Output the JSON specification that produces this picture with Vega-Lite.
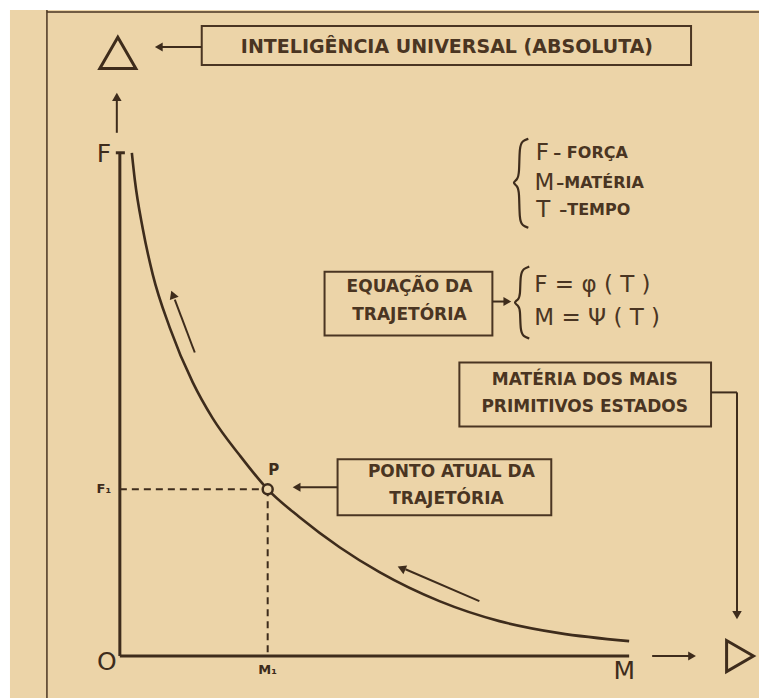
{
  "$schema": "https://vega.github.io/schema/vega-lite/v6.json",
  "width": 760,
  "height": 699,
  "autosize": {"type": "fit", "contains": "padding"},
  "padding": 0,
  "background": "#ffffff",
  "config": {"view": {"stroke": null}, "font": "DejaVu Sans"},
  "datasets": {
    "page": [{"x": -1.528, "x2": 8.889, "y": 8.986, "y2": -0.583}],
    "frame": [
      {"x": -1.014, "x2": -1.014, "y": 8.986, "y2": -0.583},
      {"x": -1.014, "x2": 8.889, "y": 8.958, "y2": 8.958}
    ],
    "axes": [
      {"x": 0, "x2": 0, "y": 0, "y2": 7.0},
      {"x": 0, "x2": 7.083, "y": 0, "y2": 0},
      {"x": -0.056, "x2": 0.07, "y": 7.0, "y2": 7.0}
    ],
    "yticks": [{"y": 0.986}, {"y": 1.972}, {"y": 2.972}, {"y": 3.958}, {"y": 4.972}, {"y": 5.958}],
    "xticks": [{"x": 1.042}, {"x": 2.056}, {"x": 3.056}, {"x": 4.056}, {"x": 5.042}, {"x": 6.083}, {"x": 7.083}],
    "dashed": [
      {"x": 0, "x2": 2.056, "y": 2.319, "y2": 2.319},
      {"x": 2.056, "x2": 2.056, "y": 2.319, "y2": 0}
    ],
    "curve": [
      {"x": 0.167, "y": 7.0}, {"x": 0.208, "y": 6.625}, {"x": 0.319, "y": 5.944}, {"x": 0.458, "y": 5.306},
      {"x": 0.694, "y": 4.569}, {"x": 1.014, "y": 3.806}, {"x": 1.292, "y": 3.306}, {"x": 1.667, "y": 2.792},
      {"x": 2.056, "y": 2.319}, {"x": 2.5, "y": 1.931}, {"x": 3.056, "y": 1.514}, {"x": 3.611, "y": 1.167},
      {"x": 4.444, "y": 0.764}, {"x": 5.278, "y": 0.486}, {"x": 6.111, "y": 0.319}, {"x": 7.083, "y": 0.208}
    ],
    "shafts": [
      {"x": 1.139, "x2": 0.556, "y": 8.472, "y2": 8.472},
      {"x": -0.042, "x2": -0.042, "y": 7.278, "y2": 7.736},
      {"x": 5.181, "x2": 5.347, "y": 4.931, "y2": 4.931},
      {"x": 3.028, "x2": 2.472, "y": 2.347, "y2": 2.347},
      {"x": 8.222, "x2": 8.583, "y": 3.667, "y2": 3.667},
      {"x": 8.583, "x2": 8.583, "y": 3.667, "y2": 0.625},
      {"x": 7.403, "x2": 7.917, "y": 0, "y2": 0},
      {"x": 1.042, "x2": 0.764, "y": 4.222, "y2": 4.958},
      {"x": 5.0, "x2": 3.972, "y": 0.764, "y2": 1.208}
    ],
    "headsLeft": [{"x": 0.542, "y": 8.472}, {"x": 2.458, "y": 2.347}],
    "headsRight": [{"x": 5.389, "y": 4.931}, {"x": 7.958, "y": 0}],
    "headsDown": [{"x": 8.583, "y": 0.569}],
    "headsUp": [{"x": -0.042, "y": 7.778}],
    "headCurve1": [{"x": 0.736, "y": 5.028}],
    "headCurve2": [{"x": 3.917, "y": 1.222}],
    "bigUp": [{"x": -0.028, "y": 8.389}],
    "bigRight": [{"x": 8.625, "y": 0}],
    "pointP": [{"x": 2.056, "y": 2.319}],
    "boxes": [
      {"x": 1.139, "x2": 7.944, "y": 8.764, "y2": 8.222},
      {"x": 2.847, "x2": 5.181, "y": 5.347, "y2": 4.458},
      {"x": 3.028, "x2": 6.0, "y": 2.736, "y2": 1.958},
      {"x": 4.722, "x2": 8.222, "y": 4.083, "y2": 3.194}
    ],
    "braces": [
      {"g": "a", "o": 1, "x": 5.681, "y": 7.194}, {"g": "a", "o": 2, "x": 5.597, "y": 7.167},
      {"g": "a", "o": 3, "x": 5.556, "y": 7.083}, {"g": "a", "o": 4, "x": 5.556, "y": 6.708},
      {"g": "a", "o": 5, "x": 5.528, "y": 6.625}, {"g": "a", "o": 6, "x": 5.458, "y": 6.583},
      {"g": "a", "o": 7, "x": 5.528, "y": 6.542}, {"g": "a", "o": 8, "x": 5.556, "y": 6.458},
      {"g": "a", "o": 9, "x": 5.556, "y": 6.069}, {"g": "a", "o": 10, "x": 5.597, "y": 5.986},
      {"g": "a", "o": 11, "x": 5.681, "y": 5.958},
      {"g": "b", "o": 1, "x": 5.694, "y": 5.417}, {"g": "b", "o": 2, "x": 5.611, "y": 5.389},
      {"g": "b", "o": 3, "x": 5.569, "y": 5.306}, {"g": "b", "o": 4, "x": 5.569, "y": 5.014},
      {"g": "b", "o": 5, "x": 5.542, "y": 4.958}, {"g": "b", "o": 6, "x": 5.472, "y": 4.917},
      {"g": "b", "o": 7, "x": 5.542, "y": 4.875}, {"g": "b", "o": 8, "x": 5.569, "y": 4.819},
      {"g": "b", "o": 9, "x": 5.569, "y": 4.528}, {"g": "b", "o": 10, "x": 5.611, "y": 4.444},
      {"g": "b", "o": 11, "x": 5.694, "y": 4.417}
    ],
    "titleText": [{"x": 4.549, "y": 8.472, "t": "INTELIGÊNCIA UNIVERSAL (ABSOLUTA)"}],
    "boxText": [
      {"x": 4.028, "y": 5.139, "t": "EQUAÇÃO DA"},
      {"x": 4.028, "y": 4.75, "t": "TRAJETÓRIA"},
      {"x": 4.611, "y": 2.556, "t": "PONTO ATUAL DA"},
      {"x": 4.542, "y": 2.181, "t": "TRAJETÓRIA"},
      {"x": 6.465, "y": 3.833, "t": "MATÉRIA DOS MAIS"},
      {"x": 6.465, "y": 3.458, "t": "PRIMITIVOS ESTADOS"}
    ],
    "legendSmall": [
      {"x": 6.028, "y": 7.0, "t": "– FORÇA"},
      {"x": 6.069, "y": 6.583, "t": "–MATÉRIA"},
      {"x": 6.111, "y": 6.208, "t": "–TEMPO"}
    ],
    "legendBig": [
      {"x": 5.875, "y": 7.0, "t": "F"},
      {"x": 5.903, "y": 6.583, "t": "M"},
      {"x": 5.889, "y": 6.208, "t": "T"}
    ],
    "equations": [
      {"x": 5.764, "y": 5.167, "t": "F = φ ( T )"},
      {"x": 5.764, "y": 4.708, "t": "M = Ψ ( T )"}
    ],
    "axisBig": [
      {"x": -0.222, "y": 6.986, "t": "F"},
      {"x": -0.181, "y": -0.083, "t": "O"},
      {"x": 7.014, "y": -0.208, "t": "M"}
    ],
    "axisSmall": [
      {"x": -0.222, "y": 2.319, "t": "F₁"},
      {"x": 2.056, "y": -0.194, "t": "M₁"}
    ],
    "pLabel": [{"x": 2.139, "y": 2.583, "t": "P"}]
  },
  "encoding": {
    "x": {"field": "x", "type": "quantitative", "scale": {"domain": [-1.6667, 8.8889], "nice": false, "zero": false}, "axis": null},
    "y": {"field": "y", "type": "quantitative", "scale": {"domain": [-0.5833, 9.125], "nice": false, "zero": false}, "axis": null}
  },
  "layer": [
    {"data": {"name": "page"}, "mark": {"type": "rect", "fill": "#ECD4A8"}, "encoding": {"x2": {"field": "x2"}, "y2": {"field": "y2"}}},
    {"data": {"name": "frame"}, "mark": {"type": "rule", "stroke": "#4A3522", "strokeWidth": 1.5}, "encoding": {"x2": {"field": "x2"}, "y2": {"field": "y2"}}},
    {"data": {"name": "boxes"}, "mark": {"type": "rect", "fill": null, "stroke": "#4A3522", "strokeWidth": 2}, "encoding": {"x2": {"field": "x2"}, "y2": {"field": "y2"}}},
    {"data": {"name": "dashed"}, "mark": {"type": "rule", "stroke": "#3E2C1C", "strokeWidth": 2, "strokeDash": [7, 5]}, "encoding": {"x2": {"field": "x2"}, "y2": {"field": "y2"}}},
    {"data": {"name": "axes"}, "mark": {"type": "rule", "stroke": "#3E2C1C", "strokeWidth": 3}, "encoding": {"x2": {"field": "x2"}, "y2": {"field": "y2"}}},
    {"data": {"name": "yticks"}, "mark": {"type": "rule", "stroke": "#3E2C1C", "strokeWidth": 2}, "encoding": {"x": {"datum": 0}, "x2": {"datum": 0.08}}},
    {"data": {"name": "xticks"}, "mark": {"type": "rule", "stroke": "#3E2C1C", "strokeWidth": 2}, "encoding": {"y": {"datum": 0}, "y2": {"datum": 0.09}}},
    {"data": {"name": "curve"}, "mark": {"type": "line", "stroke": "#3E2C1C", "strokeWidth": 2.6, "interpolate": "monotone"}, "encoding": {}},
    {"data": {"name": "shafts"}, "mark": {"type": "rule", "stroke": "#3E2C1C", "strokeWidth": 2}, "encoding": {"x2": {"field": "x2"}, "y2": {"field": "y2"}}},
    {"data": {"name": "headsLeft"}, "mark": {"type": "point", "shape": "triangle-left", "filled": true, "fill": "#3E2C1C", "size": 81, "opacity": 1}, "encoding": {}},
    {"data": {"name": "headsRight"}, "mark": {"type": "point", "shape": "triangle-right", "filled": true, "fill": "#3E2C1C", "size": 81, "opacity": 1}, "encoding": {}},
    {"data": {"name": "headsDown"}, "mark": {"type": "point", "shape": "triangle-down", "filled": true, "fill": "#3E2C1C", "size": 90, "opacity": 1}, "encoding": {}},
    {"data": {"name": "headsUp"}, "mark": {"type": "point", "shape": "triangle-up", "filled": true, "fill": "#3E2C1C", "size": 90, "opacity": 1}, "encoding": {}},
    {"data": {"name": "headCurve1"}, "mark": {"type": "point", "shape": "triangle-up", "filled": true, "fill": "#3E2C1C", "size": 90, "angle": -21, "opacity": 1}, "encoding": {}},
    {"data": {"name": "headCurve2"}, "mark": {"type": "point", "shape": "triangle-up", "filled": true, "fill": "#3E2C1C", "size": 90, "angle": -67, "opacity": 1}, "encoding": {}},
    {"data": {"name": "bigUp"}, "mark": {"type": "point", "shape": "triangle-up", "filled": false, "stroke": "#3E2C1C", "strokeWidth": 3, "size": 1296, "opacity": 1}, "encoding": {}},
    {"data": {"name": "bigRight"}, "mark": {"type": "point", "shape": "triangle-right", "filled": false, "stroke": "#3E2C1C", "strokeWidth": 3, "size": 961, "opacity": 1}, "encoding": {}},
    {"data": {"name": "pointP"}, "mark": {"type": "point", "shape": "circle", "filled": true, "fill": "#ECD4A8", "stroke": "#3E2C1C", "strokeWidth": 2.5, "size": 100, "opacity": 1}, "encoding": {}},
    {"data": {"name": "braces"}, "mark": {"type": "line", "stroke": "#3E2C1C", "strokeWidth": 2.2, "interpolate": "basis"}, "encoding": {"detail": {"field": "g"}, "order": {"field": "o", "type": "quantitative"}}},
    {"data": {"name": "titleText"}, "mark": {"type": "text", "fontSize": 19, "fontWeight": "bold", "color": "#4A3522", "align": "center", "baseline": "middle"}, "encoding": {"text": {"field": "t"}}},
    {"data": {"name": "boxText"}, "mark": {"type": "text", "fontSize": 17, "fontWeight": "bold", "color": "#4A3522", "align": "center", "baseline": "middle"}, "encoding": {"text": {"field": "t"}}},
    {"data": {"name": "legendSmall"}, "mark": {"type": "text", "fontSize": 16, "fontWeight": "bold", "color": "#4A3522", "align": "left", "baseline": "middle"}, "encoding": {"text": {"field": "t"}}},
    {"data": {"name": "legendBig"}, "mark": {"type": "text", "fontSize": 23, "color": "#4A3522", "align": "center", "baseline": "middle"}, "encoding": {"text": {"field": "t"}}},
    {"data": {"name": "equations"}, "mark": {"type": "text", "fontSize": 23, "color": "#4A3522", "align": "left", "baseline": "middle"}, "encoding": {"text": {"field": "t"}}},
    {"data": {"name": "axisBig"}, "mark": {"type": "text", "fontSize": 25, "color": "#3E2C1C", "align": "center", "baseline": "middle"}, "encoding": {"text": {"field": "t"}}},
    {"data": {"name": "axisSmall"}, "mark": {"type": "text", "fontSize": 13, "fontWeight": "bold", "color": "#3E2C1C", "align": "center", "baseline": "middle"}, "encoding": {"text": {"field": "t"}}},
    {"data": {"name": "pLabel"}, "mark": {"type": "text", "fontSize": 15, "fontWeight": "bold", "color": "#3E2C1C", "align": "center", "baseline": "middle"}, "encoding": {"text": {"field": "t"}}}
  ]
}
